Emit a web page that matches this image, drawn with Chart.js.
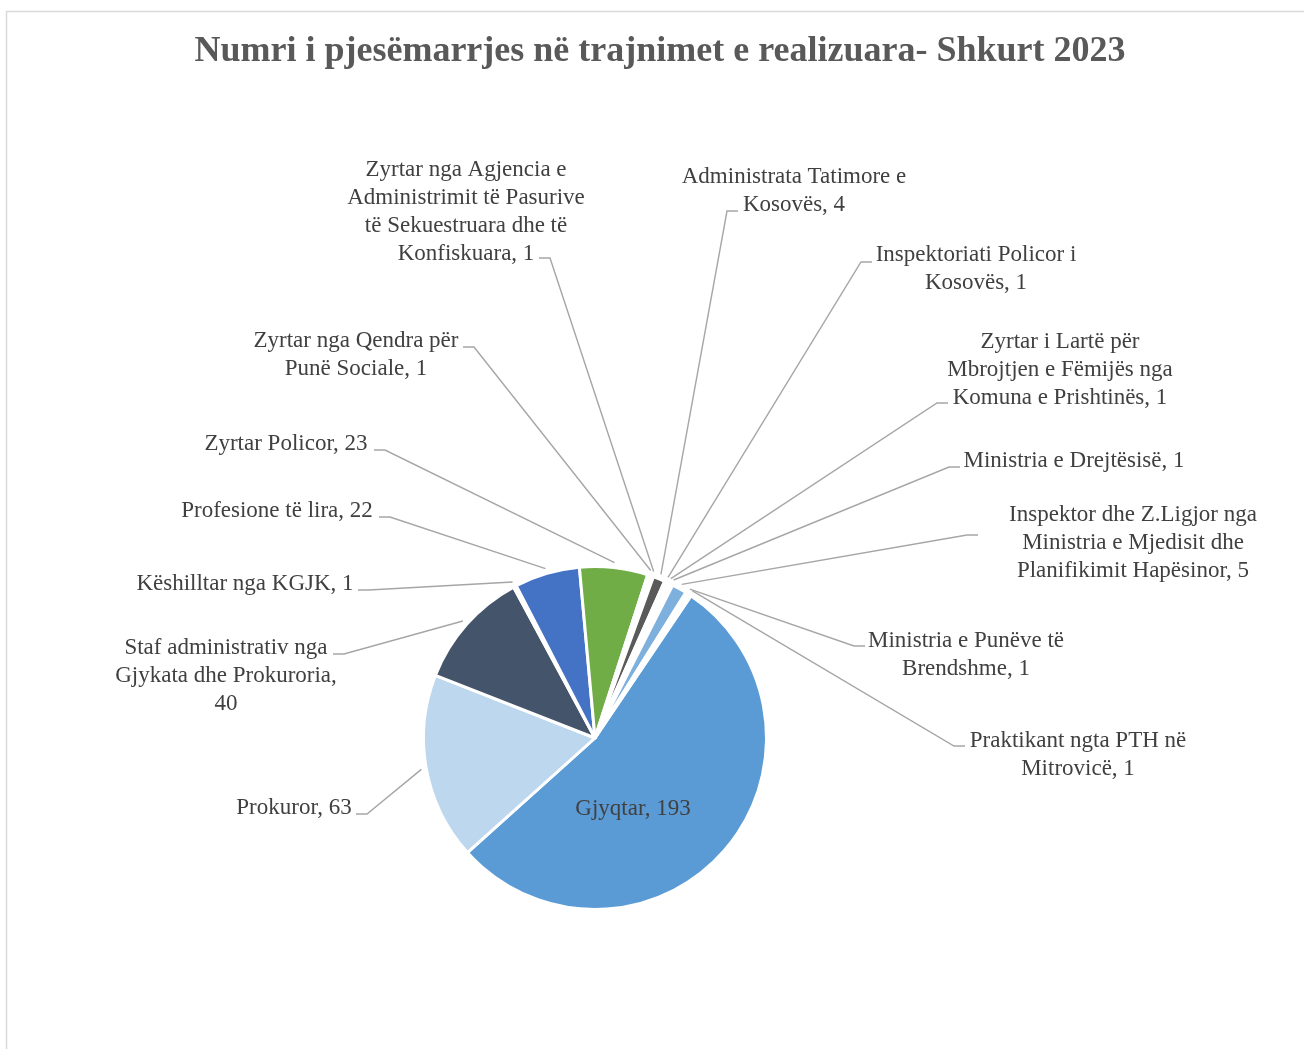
<!DOCTYPE html>
<html lang="sq">
<head>
  <meta charset="UTF-8">
  <title>Numri i pjesëmarrjes në trajnimet e realizuara- Shkurt 2023</title>
  <script src="https://cdn.jsdelivr.net/npm/chart.js"></script>
  <style>
    html, body { margin: 0; padding: 0; background: #ffffff; }
    #wrap { position: relative; width: 1304px; height: 1049px; }
  </style>
</head>
<body>
  <div id="wrap"><canvas id="pie"></canvas></div>

  <script>
    const titleText = 'Numri i pjesëmarrjes në trajnimet e realizuara- Shkurt 2023';

    const categories = [
      'Gjyqtar',
      'Prokuror',
      'Staf administrativ nga Gjykata dhe Prokuroria',
      'Këshilltar nga KGJK',
      'Profesione të lira',
      'Zyrtar Policor',
      'Zyrtar nga Qendra për Punë Sociale',
      'Zyrtar nga Agjencia e Administrimit të Pasurive të Sekuestruara dhe të Konfiskuara',
      'Administrata Tatimore e Kosovës',
      'Inspektoriati Policor i Kosovës',
      'Zyrtar i Lartë për Mbrojtjen e Fëmijës nga Komuna e Prishtinës',
      'Ministria e Drejtësisë',
      'Inspektor dhe Z.Ligjor nga Ministria e Mjedisit dhe Planifikimit Hapësinor',
      'Ministria e Punëve të Brendshme',
      'Praktikant ngta PTH në Mitrovicë'
    ];
    const values = [193, 63, 40, 1, 22, 23, 1, 1, 4, 1, 1, 1, 5, 1, 1];
    const colors = [
      '#5B9BD5', '#BDD7EE', '#44546A', '#A5A5A5', '#4472C4', '#70AD47', '#FFC000',
      '#ED7D31', '#5A5A5A', '#264478', '#9E480E', '#997300', '#7EB0DE', '#43682B', '#698ED0'
    ];
    // how many words go on each line of a data label
    const wordsPerLine = [
      [2], [2], [3, 3, 1], [4], [4], [3], [4, 3], [4, 3, 4, 2],
      [3, 2], [3, 2], [4, 4, 4], [4], [4, 4, 3], [4, 2], [4, 2]
    ];

    // label placement: text centre (cx, first line cy), leader start (ax, ay), elbow direction
    const labelPos = [
      { cx: 633, cy: 809 },
      { cx: 294, cy: 808, ax: 356, ay: 814, side: 1 },
      { cx: 226, cy: 648, ax: 333, ay: 654, side: 1 },
      { cx: 245, cy: 584, ax: 358, ay: 590, side: 1 },
      { cx: 277, cy: 511, ax: 379, ay: 517, side: 1 },
      { cx: 286, cy: 444, ax: 374, ay: 450, side: 1 },
      { cx: 356, cy: 341, ax: 463, ay: 347, side: 1 },
      { cx: 466, cy: 170, ax: 539, ay: 258, side: 1 },
      { cx: 794, cy: 177, ax: 738, ay: 211, side: -1 },
      { cx: 976, cy: 255, ax: 872, ay: 262, side: -1 },
      { cx: 1060, cy: 342, ax: 948, ay: 403, side: -1 },
      { cx: 1074, cy: 461, ax: 960, ay: 467, side: -1 },
      { cx: 1133, cy: 515, ax: 978, ay: 535, side: -1 },
      { cx: 966, cy: 641, ax: 865, ay: 646, side: -1 },
      { cx: 1078, cy: 741, ax: 965, ay: 746, side: -1 }
    ];

    function splitLines(text, counts) {
      const words = text.split(' ');
      const out = [];
      let k = 0;
      counts.forEach(n => {
        out.push(words.slice(k, k + n).join(' '));
        k += n;
      });
      if (k < words.length) out[out.length - 1] += ' ' + words.slice(k).join(' ');
      return out;
    }

    const framePlugin = {
      id: 'frame',
      beforeDraw(chart) {
        const ctx = chart.ctx;
        ctx.save();
        ctx.fillStyle = '#ffffff';
        ctx.fillRect(0, 0, chart.width, chart.height);
        ctx.strokeStyle = '#D9D9D9';
        ctx.lineWidth = 1.5;
        ctx.strokeRect(6.5, 11.5, chart.width + 40, chart.height + 40);
        ctx.fillStyle = '#595959';
        ctx.font = 'bold 36px "Liberation Serif"';
        ctx.textAlign = 'center';
        ctx.textBaseline = 'middle';
        ctx.fillText(titleText, 660, 52);
        ctx.restore();
      }
    };

    const labelPlugin = {
      id: 'pieLabels',
      afterDatasetsDraw(chart) {
        const ctx = chart.ctx;
        const meta = chart.getDatasetMeta(0);
        ctx.save();
        ctx.font = '23px "Liberation Serif"';
        ctx.fillStyle = '#404040';
        ctx.textAlign = 'center';
        ctx.textBaseline = 'middle';
        ctx.strokeStyle = '#A6A6A6';
        ctx.lineWidth = 1.4;
        meta.data.forEach((arc, i) => {
          const p = labelPos[i];
          const lines = splitLines(categories[i] + ', ' + values[i], wordsPerLine[i]);
          lines.forEach((ln, k) => ctx.fillText(ln, p.cx, p.cy + k * 28));
          if (p.ax === undefined) return;
          const a = arc.getProps(['x', 'y', 'startAngle', 'endAngle', 'outerRadius'], true);
          const mid = (a.startAngle + a.endAngle) / 2;
          const r = a.outerRadius + 5;
          ctx.beginPath();
          ctx.moveTo(p.ax, p.ay);
          ctx.lineTo(p.ax + p.side * 11, p.ay);
          ctx.lineTo(a.x + Math.cos(mid) * r, a.y + Math.sin(mid) * r);
          ctx.stroke();
        });
        ctx.restore();
      }
    };

    new Chart(document.getElementById('pie'), {
      type: 'pie',
      data: {
        labels: categories,
        datasets: [{
          data: values,
          backgroundColor: colors,
          borderColor: '#ffffff',
          borderWidth: 3,
          rotation: 34
        }]
      },
      options: {
        responsive: true,
        maintainAspectRatio: false,
        animation: false,
        events: [],
        rotation: 34,
        layout: { padding: { left: 422, right: 536, top: 563, bottom: 136 } },
        plugins: {
          legend: { display: false },
          tooltip: { enabled: false },
          title: { display: false }
        }
      },
      plugins: [framePlugin, labelPlugin]
    });
  </script>
</body>
</html>
